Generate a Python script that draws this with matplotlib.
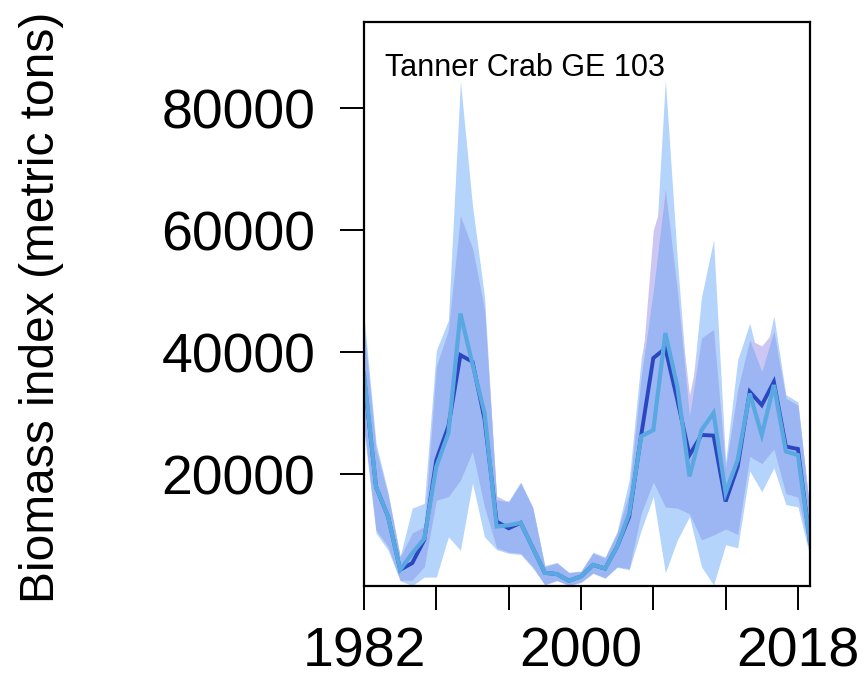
import numpy as np
import matplotlib
matplotlib.use("Agg")
import matplotlib.pyplot as plt

# annual survey biomass index, two model fits with their intervals
years = np.arange(1982, 2020)

fit_a = [36000, 17900, 13000, 4300, 5400, 9200, 22300, 27800, 39500, 38400,
         29000, 12200, 11100, 12000, 7900, 3800, 3600, 2500, 3200, 5100,
         4500, 8100, 13000, 26400, 39000, 40600, 32100, 23100, 26400, 26300,
         15500, 21200, 33500, 31300, 35100, 24500, 24100, 8700]
fit_b = [36500, 17900, 13000, 4300, 7000, 9400, 21200, 26700, 46300, 38000,
         30000, 11400, 11600, 12000, 7900, 3800, 3600, 2500, 3200, 5100,
         4500, 8100, 13500, 26200, 27200, 43100, 34300, 19600, 27200, 30000,
         16900, 22300, 33200, 26400, 34600, 23700, 23100, 8700]

lo_a = [28000, 10800, 8100, 2600, 2600, 4800, 15700, 16300, 19000, 23700,
        14600, 7900, 7200, 7000, 4800, 1900, 2600, 1800, 2300, 3800,
        3000, 4800, 4500, 13600, 18700, 14600, 14400, 13500, 9200, 10000,
        11000, 10100, 22900, 21700, 24100, 16800, 16200, 7100]
hi_a = [44000, 24000, 16500, 6400, 10300, 11400, 37600, 43600, 62300, 57000,
        47000, 16400, 15400, 18500, 14400, 4800, 5400, 3800, 4000, 7000,
        6200, 10300, 17000, 36000, 60000, 66600, 50000, 33000, 42300, 43700,
        21000, 33800, 42000, 41000, 43400, 32400, 31300, 13600]
lo_b = [27000, 10300, 7500, 2500, 1700, 3100, 3100, 9700, 7500, 18500,
        9700, 7600, 7000, 6800, 4600, 1800, 2500, 1700, 2200, 3700,
        2900, 4700, 4300, 10800, 16300, 3800, 9200, 13000, 4800, 1800,
        8400, 7900, 20500, 17100, 21000, 15000, 14600, 6400]
hi_b = [46000, 25000, 17000, 6500, 14400, 15200, 40300, 45200, 84400, 64000,
        49000, 15800, 15600, 18700, 14600, 5000, 5500, 3900, 4100, 7200,
        6400, 10600, 19000, 39000, 50000, 84600, 55000, 29500, 49000, 58400,
        22000, 38700, 44700, 36800, 45900, 33000, 31800, 13800]

yticks = [20000, 40000, 60000, 80000]
xticks = np.arange(1982, 2019, 6)
xlabels = {1982: "1982", 2000: "2000", 2018: "2018"}

plt.rcParams["font.family"] = ["Liberation Sans", "DejaVu Sans"]

fig = plt.figure(figsize=(8.65, 6.79), dpi=100)
ax = fig.add_axes([364 / 865, 1 - 586 / 679, 446 / 865, 564 / 679])

lo_a, hi_a, lo_b, hi_b = map(np.array, (lo_a, hi_a, lo_b, hi_b))
ax.fill_between(years, lo_b, hi_b, color="#b4d4fb", lw=0)
ax.fill_between(years, lo_a, hi_a, color="#ccc7f2", lw=0)
both_lo = np.maximum(lo_a, lo_b)
both_hi = np.minimum(hi_a, hi_b)
ax.fill_between(years, both_lo, both_hi, where=both_hi > both_lo,
                interpolate=True, color="#9bb6f3", lw=0)

ax.plot(years, fit_a, color="#2a46c0", lw=2.8, solid_joinstyle="miter")
ax.plot(years, fit_b, color="#5aa8e2", lw=3.0, solid_joinstyle="miter")

ax.set_xlim(1982, 2019)
ax.set_ylim(1640, 94100)
ax.set_xticks(xticks)
ax.set_xticklabels([xlabels.get(int(t), "") for t in xticks])
ax.set_yticks(yticks)
ax.set_yticklabels([str(v) for v in yticks])
ax.tick_params(axis="both", direction="out", length=17, width=1.4,
               labelsize=40, colors="black")
ax.tick_params(axis="y", pad=18)
ax.tick_params(axis="x", pad=12)
for s in ax.spines.values():
    s.set_linewidth(1.6)

fig.text(385 / 865, 1 - 68 / 679, "Tanner Crab GE 103", fontsize=22,
         ha="left", va="center")
fig.text(42 / 865, 1 - 307 / 679, "Biomass index (metric tons)", rotation=90,
         fontsize=34.5, ha="center", va="center")

fig.savefig("out.png", dpi=100)
